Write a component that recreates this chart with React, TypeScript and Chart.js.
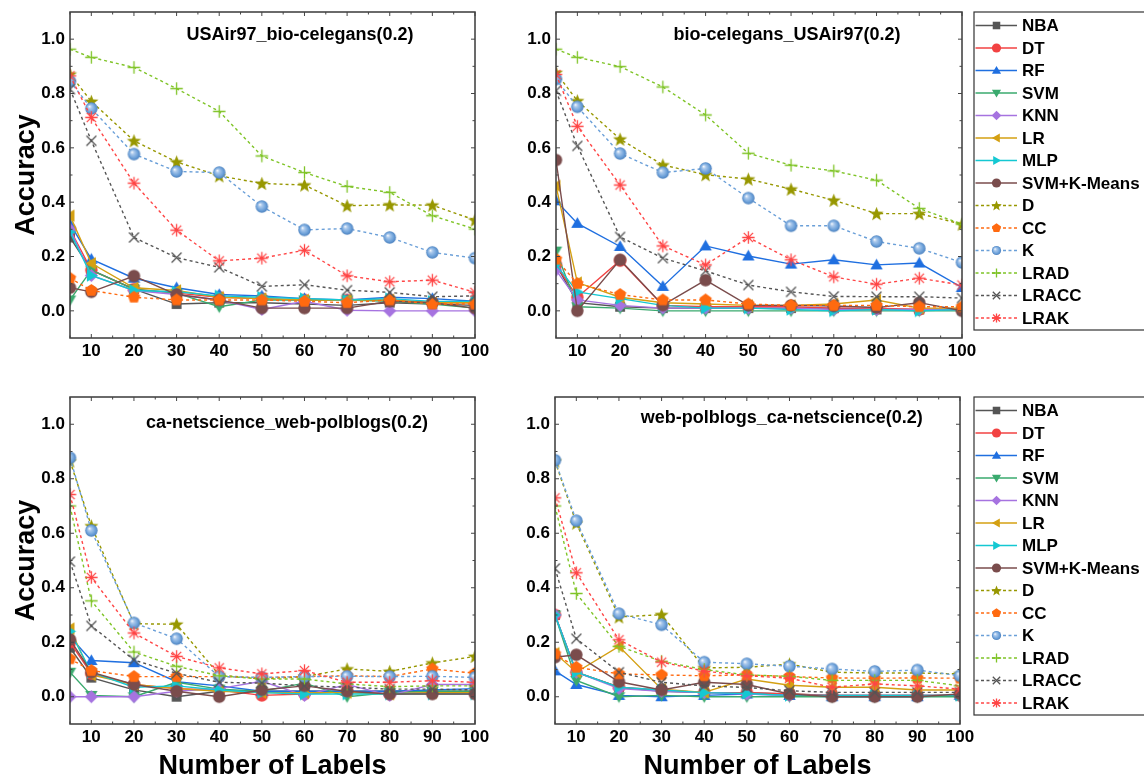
import { useEffect, useRef } from "react";
import { Chart, registerables } from "chart.js";

Chart.register(...registerables);

// ---------------- data ----------------
const labelsX = [5, 10, 20, 30, 40, 50, 60, 70, 80, 90, 100];
const xTicks = [10, 20, 30, 40, 50, 60, 70, 80, 90, 100];
const yTicks = [0, 0.2, 0.4, 0.6, 0.8, 1.0];

const seriesNames = ["NBA", "DT", "RF", "SVM", "KNN", "LR", "MLP", "SVM+K-Means", "D", "CC", "K", "LRAD", "LRACC", "LRAK"];
const seriesColors = ["#555555", "#f24242", "#1f6fe0", "#3aaa6e", "#a673e0", "#d4a012", "#14c8d2", "#7a4c4c", "#979700", "#ff6a10", "#6a9fd8", "#7fc427", "#555555", "#ff4545"];
const markerShapes = ["square", "circle", "triUp", "triDown", "diamond", "triLeft", "triRight", "circle", "star", "pentagon", "sphere", "plus", "cross", "asterisk"];
const dashedSeries = [false, false, false, false, false, false, false, false, true, true, true, true, true, true];

const panelTitles = [
  "USAir97_bio-celegans(0.2)",
  "bio-celegans_USAir97(0.2)",
  "ca-netscience_web-polblogs(0.2)",
  "web-polblogs_ca-netscience(0.2)",
];

// rows follow seriesNames order; columns follow labelsX
const usairBio: number[][] = [
  [0.27, 0.15, 0.08, 0.025, 0.03, 0.03, 0.025, 0.02, 0.03, 0.025, 0.02],
  [0.30, 0.15, 0.08, 0.065, 0.05, 0.045, 0.04, 0.04, 0.04, 0.03, 0.03],
  [0.32, 0.19, 0.12, 0.085, 0.06, 0.055, 0.045, 0.04, 0.05, 0.045, 0.035],
  [0.04, 0.15, 0.08, 0.065, 0.015, 0.04, 0.04, 0.04, 0.035, 0.025, 0.01],
  [0.30, 0.13, 0.075, 0.06, 0.04, 0.005, 0.035, 0.002, 0.0, 0.0, 0.0],
  [0.35, 0.175, 0.085, 0.075, 0.05, 0.045, 0.04, 0.04, 0.04, 0.03, 0.03],
  [0.29, 0.13, 0.075, 0.07, 0.055, 0.05, 0.045, 0.04, 0.045, 0.035, 0.035],
  [0.085, 0.07, 0.128, 0.06, 0.04, 0.01, 0.01, 0.01, 0.035, 0.03, 0.01],
  [0.871, 0.771, 0.626, 0.548, 0.497, 0.469, 0.463, 0.387, 0.39, 0.389, 0.334],
  [0.12, 0.075, 0.05, 0.04, 0.04, 0.04, 0.035, 0.03, 0.04, 0.025, 0.025],
  [0.845, 0.745, 0.577, 0.513, 0.509, 0.384, 0.298, 0.303, 0.27, 0.215, 0.194],
  [0.963, 0.933, 0.896, 0.818, 0.734, 0.57, 0.509, 0.458, 0.436, 0.35, 0.301],
  [0.816, 0.626, 0.27, 0.196, 0.16, 0.09, 0.096, 0.076, 0.068, 0.052, 0.055],
  [0.865, 0.712, 0.47, 0.297, 0.184, 0.194, 0.223, 0.129, 0.107, 0.113, 0.068],
];

const bioUsair: number[][] = [
  [0.17, 0.03, 0.015, 0.01, 0.01, 0.01, 0.01, 0.01, 0.005, 0.005, 0.005],
  [0.17, 0.05, 0.185, 0.02, 0.015, 0.015, 0.015, 0.01, 0.01, 0.005, 0.005],
  [0.405, 0.322, 0.237, 0.09, 0.239, 0.202, 0.172, 0.188, 0.169, 0.176, 0.086],
  [0.22, 0.015, 0.01, 0.0, 0.0, 0.0, 0.0, 0.0, 0.0, 0.0, 0.0],
  [0.15, 0.04, 0.02, 0.01, 0.01, 0.01, 0.01, 0.005, 0.005, 0.005, 0.005],
  [0.46, 0.104, 0.05, 0.03, 0.025, 0.02, 0.02, 0.025, 0.04, 0.01, 0.01],
  [0.17, 0.07, 0.045, 0.02, 0.01, 0.01, 0.005, 0.0, 0.005, 0.0, 0.005],
  [0.555, 0.0, 0.188, 0.021, 0.113, 0.02, 0.02, 0.018, 0.012, 0.03, 0.0],
  [0.877, 0.773, 0.632, 0.537, 0.501, 0.485, 0.448, 0.407, 0.358, 0.358, 0.319],
  [0.19, 0.10, 0.06, 0.04, 0.04, 0.025, 0.02, 0.02, 0.02, 0.015, 0.015],
  [0.853, 0.751, 0.579, 0.509, 0.524, 0.415, 0.313, 0.313, 0.255, 0.23, 0.178],
  [0.963, 0.933, 0.899, 0.824, 0.721, 0.58, 0.536, 0.515, 0.481, 0.377, 0.319],
  [0.81, 0.607, 0.272, 0.194, 0.147, 0.095, 0.07, 0.053, 0.052, 0.052, 0.047],
  [0.87, 0.679, 0.463, 0.239, 0.169, 0.27, 0.188, 0.125, 0.098, 0.12, 0.095],
];

const caWeb: number[][] = [
  [0.18, 0.07, 0.025, 0.0, 0.02, 0.02, 0.02, 0.02, 0.02, 0.02, 0.02],
  [0.20, 0.085, 0.045, 0.03, 0.025, 0.005, 0.01, 0.02, 0.01, 0.015, 0.015],
  [0.22, 0.133, 0.125, 0.055, 0.04, 0.02, 0.02, 0.02, 0.02, 0.025, 0.03],
  [0.09, 0.005, 0.0, 0.053, 0.028, 0.02, 0.05, 0.0, 0.015, 0.02, 0.02],
  [0.0, 0.0, 0.0, 0.02, 0.03, 0.057, 0.005, 0.045, 0.005, 0.045, 0.045],
  [0.25, 0.08, 0.045, 0.03, 0.02, 0.015, 0.015, 0.015, 0.01, 0.015, 0.015],
  [0.24, 0.09, 0.035, 0.04, 0.025, 0.015, 0.01, 0.01, 0.01, 0.01, 0.01],
  [0.21, 0.09, 0.045, 0.02, 0.0, 0.025, 0.04, 0.02, 0.01, 0.01, 0.01],
  [0.865, 0.627, 0.268, 0.266, 0.08, 0.065, 0.074, 0.102, 0.093, 0.124, 0.148],
  [0.139, 0.096, 0.074, 0.074, 0.074, 0.07, 0.074, 0.077, 0.074, 0.102, 0.086],
  [0.877, 0.61, 0.271, 0.213, 0.074, 0.071, 0.074, 0.075, 0.074, 0.075, 0.071],
  [0.70, 0.352, 0.164, 0.112, 0.077, 0.065, 0.065, 0.047, 0.037, 0.04, 0.04],
  [0.496, 0.26, 0.135, 0.086, 0.053, 0.05, 0.04, 0.035, 0.028, 0.028, 0.025],
  [0.742, 0.438, 0.234, 0.148, 0.106, 0.084, 0.096, 0.053, 0.053, 0.059, 0.053],
];

const webCa: number[][] = [
  [0.30, 0.09, 0.035, 0.02, 0.015, 0.015, 0.01, 0.005, 0.005, 0.005, 0.005],
  [0.30, 0.09, 0.035, 0.025, 0.015, 0.015, 0.01, 0.005, 0.005, 0.005, 0.005],
  [0.095, 0.045, 0.005, 0.0, 0.005, 0.01, 0.005, 0.0, 0.0, 0.0, 0.005],
  [0.30, 0.06, 0.0, 0.005, 0.0, 0.0, 0.0, 0.0, 0.0, 0.0, 0.0],
  [0.30, 0.09, 0.03, 0.02, 0.015, 0.01, 0.005, 0.005, 0.005, 0.005, 0.005],
  [0.16, 0.09, 0.185, 0.028, 0.016, 0.065, 0.042, 0.035, 0.035, 0.025, 0.025],
  [0.30, 0.09, 0.035, 0.025, 0.015, 0.012, 0.005, 0.005, 0.005, 0.005, 0.005],
  [0.145, 0.154, 0.055, 0.025, 0.053, 0.045, 0.01, 0.0, 0.0, 0.0, 0.01],
  [0.865, 0.637, 0.293, 0.301, 0.106, 0.108, 0.12, 0.09, 0.087, 0.087, 0.084],
  [0.157, 0.108, 0.084, 0.08, 0.077, 0.08, 0.074, 0.069, 0.068, 0.069, 0.068],
  [0.868, 0.646, 0.305, 0.264, 0.127, 0.121, 0.112, 0.102, 0.093, 0.098, 0.077],
  [0.70, 0.379, 0.185, 0.13, 0.10, 0.08, 0.075, 0.06, 0.06, 0.06, 0.04],
  [0.471, 0.213, 0.09, 0.053, 0.04, 0.034, 0.022, 0.016, 0.016, 0.016, 0.016],
  [0.73, 0.455, 0.209, 0.127, 0.094, 0.077, 0.068, 0.035, 0.047, 0.04, 0.028],
];

const panelValues = [usairBio, bioUsair, caWeb, webCa];

// ---------------- drawing helpers ----------------
const FONT = "Arial, 'Liberation Sans', Helvetica, sans-serif";

function polyPath(ctx: CanvasRenderingContext2D, x: number, y: number, r: number, n: number, startDeg: number) {
  for (let i = 0; i < n; i++) {
    const a = ((startDeg + (i * 360) / n) * Math.PI) / 180;
    const px = x + r * Math.cos(a);
    const py = y + r * Math.sin(a);
    if (i === 0) ctx.moveTo(px, py);
    else ctx.lineTo(px, py);
  }
  ctx.closePath();
}

function drawMarker(ctx: CanvasRenderingContext2D, shape: string, x: number, y: number, r: number, color: string) {
  ctx.save();
  ctx.fillStyle = color;
  ctx.strokeStyle = color;
  ctx.lineWidth = 1.3;
  ctx.setLineDash([]);
  ctx.beginPath();
  switch (shape) {
    case "square": {
      const s = r * 0.82;
      ctx.rect(x - s, y - s, 2 * s, 2 * s);
      ctx.fill();
      break;
    }
    case "circle":
      ctx.arc(x, y, r, 0, Math.PI * 2);
      ctx.fill();
      break;
    case "triUp":
      polyPath(ctx, x, y + r * 0.15, r * 1.15, 3, -90);
      ctx.fill();
      break;
    case "triDown":
      polyPath(ctx, x, y - r * 0.15, r * 1.15, 3, 90);
      ctx.fill();
      break;
    case "triLeft":
      polyPath(ctx, x + r * 0.15, y, r * 1.15, 3, 180);
      ctx.fill();
      break;
    case "triRight":
      polyPath(ctx, x - r * 0.15, y, r * 1.15, 3, 0);
      ctx.fill();
      break;
    case "diamond":
      polyPath(ctx, x, y, r * 1.05, 4, -90);
      ctx.fill();
      break;
    case "pentagon":
      polyPath(ctx, x, y, r * 1.05, 5, -90);
      ctx.fill();
      break;
    case "star": {
      const R = r * 1.2;
      const ri = R * 0.42;
      for (let i = 0; i < 10; i++) {
        const rr = i % 2 === 0 ? R : ri;
        const a = ((-90 + i * 36) * Math.PI) / 180;
        const px = x + rr * Math.cos(a);
        const py = y + rr * Math.sin(a) + r * 0.1;
        if (i === 0) ctx.moveTo(px, py);
        else ctx.lineTo(px, py);
      }
      ctx.closePath();
      ctx.fill();
      break;
    }
    case "sphere": {
      const g = ctx.createRadialGradient(x - r * 0.35, y - r * 0.35, 0, x, y, r);
      g.addColorStop(0, "#ffffff");
      g.addColorStop(0.3, "#a9c8ec");
      g.addColorStop(0.75, "#6a9fd8");
      g.addColorStop(1, "#4c80bd");
      ctx.fillStyle = g;
      ctx.arc(x, y, r, 0, Math.PI * 2);
      ctx.fill();
      break;
    }
    case "plus":
      ctx.moveTo(x - r, y);
      ctx.lineTo(x + r, y);
      ctx.moveTo(x, y - r);
      ctx.lineTo(x, y + r);
      ctx.stroke();
      break;
    case "cross": {
      const d = r * 0.8;
      ctx.moveTo(x - d, y - d);
      ctx.lineTo(x + d, y + d);
      ctx.moveTo(x - d, y + d);
      ctx.lineTo(x + d, y - d);
      ctx.stroke();
      break;
    }
    case "asterisk": {
      const d = r * 0.75;
      ctx.moveTo(x - r, y);
      ctx.lineTo(x + r, y);
      ctx.moveTo(x, y - r);
      ctx.lineTo(x, y + r);
      ctx.moveTo(x - d, y - d);
      ctx.lineTo(x + d, y + d);
      ctx.moveTo(x - d, y + d);
      ctx.lineTo(x + d, y - d);
      ctx.stroke();
      break;
    }
  }
  ctx.restore();
}

function markerImage(shape: string, color: string, r: number): HTMLCanvasElement {
  const size = Math.ceil(r * 2 + 6);
  const c = document.createElement("canvas");
  c.width = size;
  c.height = size;
  const ctx = c.getContext("2d")!;
  drawMarker(ctx, shape, size / 2, size / 2, r, color);
  return c;
}

type PanelCfg = {
  left: number;
  top: number;
  width: number;
  height: number;
  pad: { left: number; top: number; right: number; bottom: number };
  yWidth: number;
  titleFx: number;
  titleDy: number;
  yTitle: boolean;
  xTitle: boolean;
  legend: boolean;
  legendX: number;
  legendTop: number;
  legendBottom: number;
};

const panelLayouts: PanelCfg[] = [
  { left: 0, top: 0, width: 500, height: 370, pad: { left: 8, top: 12, right: 25, bottom: 2 }, yWidth: 62, titleFx: 0.568, titleDy: 23, yTitle: true, xTitle: false, legend: false, legendX: 0, legendTop: 0, legendBottom: 0 },
  { left: 480, top: 0, width: 664, height: 370, pad: { left: 8, top: 12, right: 182, bottom: 2 }, yWidth: 68, titleFx: 0.569, titleDy: 23, yTitle: false, xTitle: false, legend: true, legendX: 494, legendTop: 12, legendBottom: 330 },
  { left: 0, top: 370, width: 500, height: 410, pad: { left: 8, top: 27, right: 25, bottom: 26 }, yWidth: 62, titleFx: 0.536, titleDy: 26, yTitle: true, xTitle: true, legend: false, legendX: 0, legendTop: 0, legendBottom: 0 },
  { left: 480, top: 370, width: 664, height: 410, pad: { left: 8, top: 27, right: 184, bottom: 26 }, yWidth: 67, titleFx: 0.56, titleDy: 21, yTitle: false, xTitle: true, legend: true, legendX: 494, legendTop: 27, legendBottom: 345 },
];

function decoPlugin(cfg: PanelCfg, title: string) {
  return {
    id: "panelDeco",
    afterDraw(chart: any) {
      const ctx: CanvasRenderingContext2D = chart.ctx;
      const a = chart.chartArea;
      const xs = chart.scales.x;
      const ys = chart.scales.y;
      ctx.save();
      // frame
      ctx.strokeStyle = "#3a3a3a";
      ctx.lineWidth = 1.5;
      ctx.setLineDash([]);
      ctx.strokeRect(a.left, a.top, a.right - a.left, a.bottom - a.top);
      // inside ticks
      ctx.lineWidth = 1;
      ctx.strokeStyle = "#444";
      ctx.beginPath();
      for (let v = 5; v <= 100; v += 5) {
        const px = xs.getPixelForValue(v);
        const len = v % 10 === 0 ? 4 : 2.5;
        ctx.moveTo(px, a.bottom);
        ctx.lineTo(px, a.bottom - len);
        ctx.moveTo(px, a.top);
        ctx.lineTo(px, a.top + len);
      }
      for (let k = 0; k <= 10; k++) {
        const v = k / 10;
        const py = ys.getPixelForValue(v);
        const len = k % 2 === 0 ? 4 : 2.5;
        ctx.moveTo(a.left, py);
        ctx.lineTo(a.left + len, py);
        ctx.moveTo(a.right, py);
        ctx.lineTo(a.right - len, py);
      }
      ctx.stroke();
      // panel title
      ctx.fillStyle = "#000";
      ctx.font = `bold 18px ${FONT}`;
      ctx.textAlign = "center";
      ctx.textBaseline = "middle";
      ctx.fillText(title, a.left + cfg.titleFx * (a.right - a.left), a.top + cfg.titleDy);
      // axis titles
      ctx.font = `bold 27px ${FONT}`;
      if (cfg.yTitle) {
        ctx.save();
        ctx.translate(27, (a.top + a.bottom) / 2);
        ctx.rotate(-Math.PI / 2);
        ctx.fillText("Accuracy", 0, 0);
        ctx.restore();
      }
      if (cfg.xTitle) {
        ctx.fillText("Number of Labels", (a.left + a.right) / 2, a.bottom + 43);
      }
      // legend
      if (cfg.legend) {
        const lx = cfg.legendX;
        ctx.strokeStyle = "#333";
        ctx.lineWidth = 1.2;
        ctx.strokeRect(lx, cfg.legendTop, chart.width - lx + 10, cfg.legendBottom - cfg.legendTop);
        ctx.font = `bold 17px ${FONT}`;
        ctx.textAlign = "left";
        ctx.textBaseline = "middle";
        seriesNames.forEach((name, i) => {
          const y = cfg.legendTop + 13.5 + i * 22.5;
          ctx.save();
          ctx.strokeStyle = seriesColors[i];
          ctx.lineWidth = 1.5;
          ctx.setLineDash(dashedSeries[i] ? [3, 2.5] : []);
          ctx.beginPath();
          ctx.moveTo(lx + 1.5, y);
          ctx.lineTo(lx + 43, y);
          ctx.stroke();
          ctx.restore();
          drawMarker(ctx, markerShapes[i], lx + 22.5, y, 4.6, seriesColors[i]);
          ctx.fillStyle = "#000";
          ctx.fillText(name, lx + 48, y + 1);
        });
      }
      ctx.restore();
    },
  };
}

function Panel({ index }: { index: number }) {
  const ref = useRef<HTMLCanvasElement>(null);
  const cfg = panelLayouts[index];
  useEffect(() => {
    if (!ref.current) return;
    const values = panelValues[index];
    const images = seriesNames.map((_, i) => markerImage(markerShapes[i], seriesColors[i], markerShapes[i] === "square" ? 6 : 6.2));
    const tickFont = { family: FONT, size: 17, weight: "bold" as const };
    const chart = new Chart(ref.current, {
      type: "line",
      data: {
        datasets: seriesNames.map((name, i) => ({
          label: name,
          data: labelsX.map((x, j) => ({ x, y: values[i][j] })),
          borderColor: seriesColors[i],
          backgroundColor: seriesColors[i],
          borderWidth: 1.4,
          borderDash: dashedSeries[i] ? [3, 3] : [],
          pointStyle: images[i] as any,
          pointRadius: 6,
          pointHoverRadius: 6,
          tension: 0,
          fill: false,
          order: -i,
        })),
      },
      options: {
        responsive: false,
        animation: false,
        events: [],
        layout: { padding: cfg.pad },
        plugins: { legend: { display: false }, tooltip: { enabled: false }, title: { display: false } },
        scales: {
          x: {
            type: "linear",
            min: 5,
            max: 100,
            grid: { display: false, drawTicks: false },
            border: { display: false },
            ticks: {
              font: tickFont,
              color: "#000",
              padding: 3,
              autoSkip: false,
              maxRotation: 0,
              callback: (v: any) => String(v),
            },
            afterBuildTicks: (s: any) => {
              s.ticks = xTicks.map((v) => ({ value: v }));
            },
            afterFit: (s: any) => {
              s.height = 30;
              s.paddingLeft = 0;
              s.paddingRight = 0;
            },
          },
          y: {
            type: "linear",
            min: -0.1,
            max: 1.1,
            grid: { display: false, drawTicks: false },
            border: { display: false },
            ticks: {
              font: tickFont,
              color: "#000",
              padding: 5,
              callback: (v: any) => Number(v).toFixed(1),
            },
            afterBuildTicks: (s: any) => {
              s.ticks = yTicks.map((v) => ({ value: v }));
            },
            afterFit: (s: any) => {
              s.width = cfg.yWidth;
              s.paddingTop = 0;
              s.paddingBottom = 0;
            },
          },
        },
      },
      plugins: [decoPlugin(cfg, panelTitles[index])],
    } as any);
    return () => chart.destroy();
  }, [index]);
  return (
    <canvas
      ref={ref}
      width={cfg.width}
      height={cfg.height}
      style={{ position: "absolute", left: cfg.left, top: cfg.top, width: cfg.width, height: cfg.height }}
    />
  );
}

export default function App() {
  useEffect(() => {
    document.body.style.overflow = "hidden";
  }, []);
  return (
    <div style={{ position: "absolute", left: 0, top: 0, width: 1144, height: 780, background: "#fff", overflow: "hidden" }}>
      {[0, 1, 2, 3].map((i) => (
        <Panel key={i} index={i} />
      ))}
    </div>
  );
}
